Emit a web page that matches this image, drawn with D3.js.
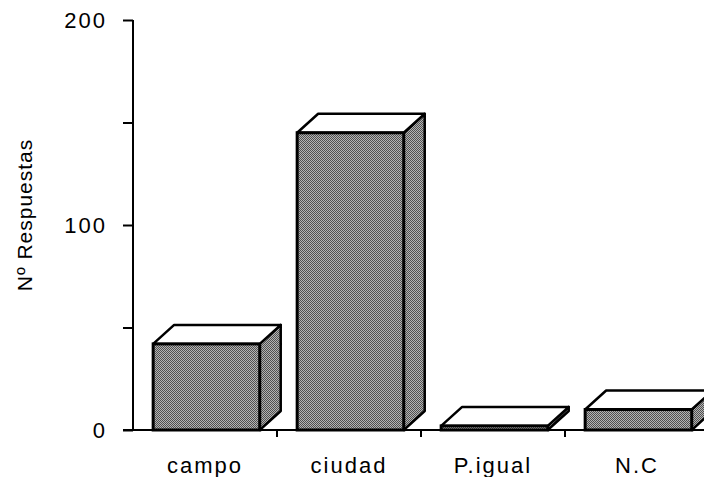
<!DOCTYPE html>
<html>
<head>
<meta charset="utf-8">
<script src="https://cdn.jsdelivr.net/npm/d3@7"></script>
<style>
  body { margin: 0; background: #fff; }
  text { font-family: "Liberation Sans", Arial, sans-serif; fill: #000; }
</style>
</head>
<body>
<svg width="704" height="477"></svg>
<script>
let categories = ["campo", "ciudad", "P.igual", "N.C"]
let values = [42, 145, 2, 10]
let yTicks = [0, 50, 100, 150, 200]
let yTickLabels = ["0", "", "100", "", "200"]

let svg = d3.select("svg")

// dotted grey fill like the original
let pat = svg.append("defs").append("pattern")
  .attr("id", "dots")
  .attr("width", 2).attr("height", 2)
  .attr("patternUnits", "userSpaceOnUse")
pat.append("rect").attr("width", 2).attr("height", 2).attr("fill", "#b4b4b4")
pat.append("rect").attr("x", 0).attr("y", 0).attr("width", 1).attr("height", 1).attr("fill", "#505050")
pat.append("rect").attr("x", 1).attr("y", 1).attr("width", 1).attr("height", 1).attr("fill", "#505050")

let x = d3.scaleBand().domain(categories).range([133, 709])
let y = d3.scaleLinear().domain([0, 200]).range([430, 20])
let bw = x.bandwidth()
let dx = 21, dy = -19

let data = categories.map((c, i) => ({cat: c, val: values[i]}))

let bars = svg.selectAll(".bar").data(data).enter().append("g").attr("class", "bar")

let fx0 = (d) => x(d.cat) + bw * 0.14
let fx1 = (d) => x(d.cat) + bw * 0.88

// right side face
bars.append("path")
  .attr("d", (d) => {
    let x1 = fx1(d), yt = y(d.val), yb = y(0)
    return "M" + x1 + "," + yt + "L" + (x1 + dx) + "," + (yt + dy) + "L" + (x1 + dx) + "," + (yb + dy) + "L" + x1 + "," + yb + "Z"
  })
  .attr("fill", "url(#dots)")
  .attr("stroke", "#000")
  .attr("stroke-width", 2.5)
  .attr("stroke-linejoin", "round")

// top face
bars.append("path")
  .attr("d", (d) => {
    let x0 = fx0(d), x1 = fx1(d), yt = y(d.val)
    return "M" + x0 + "," + yt + "L" + (x0 + dx) + "," + (yt + dy) + "L" + (x1 + dx) + "," + (yt + dy) + "L" + x1 + "," + yt + "Z"
  })
  .attr("fill", "#fff")
  .attr("stroke", "#000")
  .attr("stroke-width", 2.5)
  .attr("stroke-linejoin", "round")

// front face
bars.append("rect")
  .attr("x", fx0)
  .attr("y", (d) => y(d.val))
  .attr("width", (d) => fx1(d) - fx0(d))
  .attr("height", (d) => y(0) - y(d.val))
  .attr("fill", "url(#dots)")
  .attr("stroke", "#000")
  .attr("stroke-width", 3)

// y axis
let yAxis = svg.append("g")
  .attr("transform", "translate(133,0)")
  .call(d3.axisLeft(y).tickValues(yTicks).tickSize(10).tickFormat((d, i) => yTickLabels[i]))
yAxis.select(".domain").attr("d", "M0," + y(200) + "V" + y(0)).attr("stroke-width", 2)
yAxis.selectAll(".tick line").attr("stroke-width", 2)
yAxis.selectAll(".tick text")
  .attr("x", -26)
  .attr("font-size", "22px")
  .attr("letter-spacing", "2px")
  .attr("font-family", "Liberation Sans, Arial, sans-serif")

// x axis line and boundary ticks
svg.append("line")
  .attr("x1", 123).attr("x2", 704)
  .attr("y1", y(0)).attr("y2", y(0))
  .attr("stroke", "#000").attr("stroke-width", 2)

svg.selectAll(".xtick").data(categories).enter().append("line")
  .attr("x1", (d) => x(d) + bw).attr("x2", (d) => x(d) + bw)
  .attr("y1", y(0)).attr("y2", y(0) + 7)
  .attr("stroke", "#000").attr("stroke-width", 2)

svg.selectAll(".xlab").data(categories).enter().append("text")
  .attr("x", (d) => x(d) + bw / 2)
  .attr("y", 473)
  .attr("text-anchor", "middle")
  .attr("font-size", "22px")
  .attr("letter-spacing", "2px")
  .text((d) => d)

svg.append("text")
  .attr("transform", "translate(32,215) rotate(-90)")
  .attr("text-anchor", "middle")
  .attr("font-size", "21px")
  .attr("letter-spacing", "1px")
  .text("Nº Respuestas")
</script>
</body>
</html>
